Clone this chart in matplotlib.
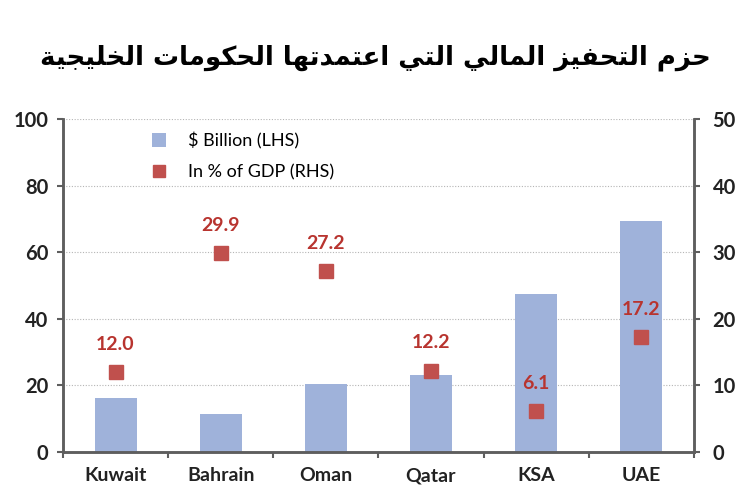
import matplotlib
matplotlib.use("Agg")
import matplotlib.pyplot as plt
from matplotlib.ticker import FixedLocator, NullFormatter

# Data
countries = ["Kuwait", "Bahrain", "Oman", "Qatar", "KSA", "UAE"]
bn_usd = [16.3, 11.4, 20.4, 23.2, 47.5, 69.5]      # $ Billion (LHS)
pct_gdp = [12.0, 29.9, 27.2, 12.2, 6.1, 17.2]       # In % of GDP (RHS)
title_ar = "حزم التحفيز المالي التي اعتمدتها الحكومات الخليجية"

BAR_COLOR = "#9fb2da"
MARK_COLOR = "#c0504d"
LABEL_COLOR = "#b8342f"
AXIS_COLOR = "#5e5e5e"

# matplotlib does not shape Arabic, so map letters to presentation forms
# (isolated, final, initial, medial) and reverse for right-to-left display
DUAL = {
    "ب": 0xFE8F, "ت": 0xFE95, "ث": 0xFE99, "ج": 0xFE9D, "ح": 0xFEA1,
    "خ": 0xFEA5, "س": 0xFEB1, "ش": 0xFEB5, "ص": 0xFEB9, "ض": 0xFEBD,
    "ط": 0xFEC1, "ظ": 0xFEC5, "ع": 0xFEC9, "غ": 0xFECD, "ف": 0xFED1,
    "ق": 0xFED5, "ك": 0xFED9, "ل": 0xFEDD, "م": 0xFEE1, "ن": 0xFEE5,
    "ه": 0xFEE9, "ي": 0xFEF1,
}
RIGHT = {
    "ا": 0xFE8D, "ة": 0xFE93, "د": 0xFEA9, "ذ": 0xFEAB, "ر": 0xFEAD,
    "ز": 0xFEAF, "و": 0xFEED,
}


def shape_arabic(text):
    out = []
    n = len(text)
    for i, ch in enumerate(text):
        if ch not in DUAL and ch not in RIGHT:
            out.append(ch)
            continue
        prev_joins = i > 0 and text[i - 1] in DUAL
        next_is_letter = i < n - 1 and (text[i + 1] in DUAL or text[i + 1] in RIGHT)
        if ch in DUAL:
            base = DUAL[ch]
            if prev_joins and next_is_letter:
                code = base + 3
            elif prev_joins:
                code = base + 1
            elif next_is_letter:
                code = base + 2
            else:
                code = base
        else:
            base = RIGHT[ch]
            code = base + 1 if prev_joins else base
        out.append(chr(code))
    return "".join(out)[::-1]


plt.rcParams["font.family"] = ["Lato", "DejaVu Sans"]
plt.rcParams["font.weight"] = "bold"

fig = plt.figure(figsize=(7.5, 5), dpi=100)
ax = fig.add_axes([0.084, 0.096, 0.841, 0.666])
ax2 = ax.twinx()

x = list(range(len(countries)))
bars = ax.bar(x, bn_usd, width=0.4, color=BAR_COLOR, zorder=2)
ax.set_xlim(-0.5, len(countries) - 0.5)
ax.set_ylim(0, 100)
ax.set_yticks(range(0, 101, 20))
ax.yaxis.grid(True, linestyle=(0, (1, 1.5)), color="#b5b5b5", linewidth=0.8, zorder=0)
ax.set_axisbelow(True)

ax.set_xticks(x)
ax.set_xticklabels(countries, fontsize=14, color="#222222")
ax.tick_params(axis="x", which="major", length=0, pad=11)
ax.xaxis.set_minor_locator(FixedLocator([i + 0.5 for i in range(-1, len(countries))]))
ax.xaxis.set_minor_formatter(NullFormatter())
ax.tick_params(axis="x", which="minor", length=4.5, width=1.5, color=AXIS_COLOR, direction="out")
ax.tick_params(axis="y", length=4.5, width=1.5, color=AXIS_COLOR, direction="out", pad=6,
               labelsize=14.5, labelcolor="#222222")

marks, = ax2.plot(x, pct_gdp, linestyle="none", marker="s", markersize=9.5,
                  color=MARK_COLOR, zorder=3)
for xi, v in zip(x, pct_gdp):
    ax2.annotate(f"{v:.1f}", (xi, v), xytext=(0, 20), textcoords="offset points",
                 ha="center", va="center", color=LABEL_COLOR, fontsize=14)
ax2.set_ylim(0, 50)
ax2.set_yticks(range(0, 51, 10))
ax2.tick_params(axis="y", length=4.5, width=1.5, color=AXIS_COLOR, direction="out", pad=9,
                labelsize=14.5, labelcolor="#222222")

for a in (ax, ax2):
    a.spines["top"].set_visible(False)
    for s in ("left", "right", "bottom"):
        a.spines[s].set_color(AXIS_COLOR)
        a.spines[s].set_linewidth(1.8)

ax.legend([bars, marks], ["$ Billion (LHS)", "In % of GDP (RHS)"],
          loc="upper left", bbox_to_anchor=(0.115, 1.01), frameon=False,
          prop={"size": 13, "weight": "normal"}, handlelength=0.8, handleheight=0.8,
          labelspacing=0.85, handletextpad=1.2, markerscale=0.85)

fig.text(0.5, 0.885, shape_arabic(title_ar), ha="center", va="center",
         fontsize=18.7, fontweight="bold", family=["DejaVu Sans"])

fig.savefig("out.png", dpi=100)
